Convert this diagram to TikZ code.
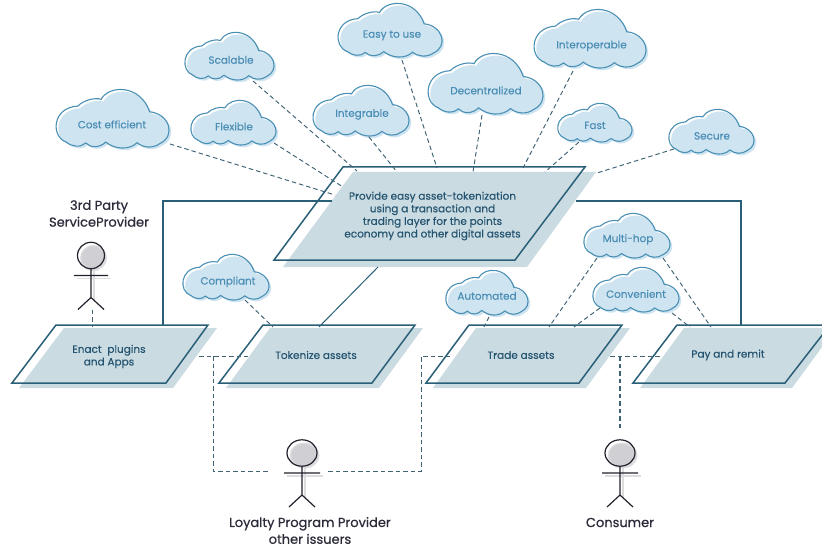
\documentclass[tikz,border=0pt]{standalone}
\usepackage{fontspec}
\setmainfont{Poppins}[FakeBold=0.3]
\newfontfamily\actorfont{Poppins}[FakeBold=0.6]
\definecolor{edgeblue}{HTML}{2A5F78}
\definecolor{dashc}{HTML}{3F6274}
\definecolor{boxfill}{HTML}{CBDBE2}
\definecolor{cloudfill}{HTML}{CFE4F1}
\definecolor{cloudedge}{HTML}{4A90B5}
\definecolor{cloudtext}{HTML}{4A8DB5}
\definecolor{boxtext}{HTML}{245470}
\definecolor{actortext}{HTML}{2B2B3A}
\definecolor{actorline}{HTML}{22222E}
\definecolor{headfill}{HTML}{CFCFD4}
\definecolor{shadowc}{HTML}{DDDDE0}
\tikzset{
  cloudlabel/.style={inner sep=0pt,text=cloudtext,font=\fontsize{10.4}{11}\selectfont},
  boxlabel/.style={inner sep=0pt,text=boxtext,align=center,font=\fontsize{10.5}{12.6}\selectfont},
  actorlabel/.style={inner sep=0pt,text=actortext,align=center,font=\actorfont\fontsize{13}{16.8}\selectfont},
  dashline/.style={draw=dashc,line width=0.95pt,dash pattern=on 4.5pt off 3pt},
  solidline/.style={draw=edgeblue,line width=1.05pt},
  boxedge/.style={draw=edgeblue,line width=1.5pt,line join=miter},
  actorstroke/.style={draw=actorline,line width=1.2pt},
}
\newcommand{\cloudshape}{(-0.80,0.80)
 .. controls (-1.08,0.62) and (-1.05,-0.38) .. (-0.60,-0.42)
 .. controls (-0.50,-0.62) and (-0.30,-0.72) .. (-0.19,-0.65)
 .. controls (-0.05,-1.15) and (0.50,-1.15) .. (0.66,-0.23)
 .. controls (1.02,-0.15) and (1.12,0.60) .. (0.84,0.85)
 .. controls (0.72,1.02) and (0.55,1.0) .. (0.44,0.82)
 .. controls (0.30,1.08) and (0.05,1.05) .. (-0.11,0.80)
 .. controls (-0.22,1.0) and (-0.38,1.0) .. (-0.46,0.83)
 .. controls (-0.55,1.0) and (-0.72,0.95) .. (-0.80,0.80) -- cycle}
% name x0 x1 y0 y1 tx ty text
\newcommand{\cloudnode}[8]{%
  \pgfmathsetmacro{\cxx}{(#2+#3)/2}\pgfmathsetmacro{\cyy}{(#4+#5)/2}%
  \pgfmathsetmacro{\hww}{(#3-#2)/2}\pgfmathsetmacro{\hhh}{(#5-#4)/2}%
  \begin{scope}[shift={(\cxx,\cyy)},x=\hww pt,y=-\hhh pt]
    \fill[white] \cloudshape;
    \begin{scope}[xshift=2.2pt,yshift=-2.2pt]\fill[cloudfill] \cloudshape;\end{scope}
    \draw[cloudedge,line width=1.1pt] \cloudshape;
  \end{scope}
  \node[cloudlabel] (#1) at (#6,#7+0.4) {#8};}
\newcommand{\conn}[6]{\draw[dashline] ([shift={(#2,#3-0.4)}]#1.center) -- ([shift={(#5,#6-0.5)}]#4.center);}
\newcommand{\actor}[5]{% name, cx, headcy, rx, armhalf
  \fill[shadowc] (#2+2.5,#3+2.5) ellipse (#4 pt and 13pt);
  \fill[headfill] (#2+2,#3+2) ellipse (#4*0.85 pt and 11pt);
  \draw[actorstroke] (#2,#3) ellipse (#4 pt and 13.2pt);
  \draw[shadowc,line width=1.2pt] (#2+3,#3+14) -- (#2+3,#3+44) (#2-#5+3,#3+23) -- (#2+#5+3,#3+23);
  \draw[actorstroke] (#2,#3+13.2) -- (#2,#3+42) (#2-#5,#3+20) -- (#2+#5,#3+20)
    (#2-13,#3+54) -- (#2,#3+42) -- (#2+13,#3+54);
  \coordinate (#1) at (#2,#3);}
\begin{document}
\begin{tikzpicture}[x=1pt,y=-1pt]
\clip (0,0) rectangle (822,548);
\fill[white] (0,0) rectangle (822,548);
% actors
\actor{a1}{91}{255.5}{13.5}{17}
\actor{a2}{302}{453}{15}{18}
\actor{a3}{620}{453}{15}{18}
% box fills
\fill[boxfill] (353,172) -- (596,172) -- (527,267) -- (283,267) -- cycle;
\fill[boxfill] (64,328) -- (217,328) -- (173,388) -- (19,388) -- cycle;
\fill[boxfill] (270,328) -- (423,328) -- (379,388) -- (226,388) -- cycle;
\fill[boxfill] (476,328) -- (630,328) -- (586,388) -- (433,388) -- cycle;
\fill[boxfill] (684,328) -- (836,328) -- (792,388) -- (640,388) -- cycle;
% labels
\node[boxlabel] (main) at (432.5,216) {Provide easy asset-tokenization\\using a transaction and\\trading layer for the points\\economy and other digital assets};
\node[boxlabel] (enact) at (109,356.5) {Enact\ \ plugins\\and Apps};
\node[boxlabel] (token) at (316,355) {Tokenize assets};
\node[boxlabel] (trade) at (521,355) {Trade assets};
\node[boxlabel] (pay) at (728,355) {Pay and remit};
% solid
\draw[solidline] ([shift={(54,-31.5)}]enact.center) -- ([shift={(54,-155.5)}]enact.center) -- ([shift={(-100.5,-15)}]main.center);
\draw[solidline] ([shift={(143.5,-15)}]main.center) -- ([shift={(13,-154)}]pay.center) -- ([shift={(13,-29.5)}]pay.center);
\draw[edgeblue,line width=1pt] ([shift={(-54.5,51)}]main.center) -- ([shift={(3,-28)}]token.center);
% outlines
\draw[boxedge] (343,167) -- (585,167) -- (515,260) -- (274,260) -- cycle;
\draw[boxedge] (56,325) -- (208,325) -- (166,383) -- (12,383) -- cycle;
\draw[boxedge] (263,325) -- (415,325) -- (372,383) -- (219,383) -- cycle;
\draw[boxedge] (469,325) -- (622,325) -- (579,383) -- (426,383) -- cycle;
\draw[boxedge] (677,325) -- (830,325) -- (785,383) -- (633,383) -- cycle;
% clouds
\cloudnode{cost}{55}{169}{89}{148}{112}{124}{Cost efficient}
\cloudnode{scal}{184}{274}{32}{80}{231}{59.5}{Scalable}
\cloudnode{flex}{190}{276}{100}{145}{234}{126}{Flexible}
\cloudnode{integ}{312}{409}{85}{136}{362}{114}{Integrable}
\cloudnode{easy}{337}{442}{3}{57}{392}{35}{Easy to use}
\cloudnode{decen}{427}{543}{53}{114}{486}{90}{Decentralized}
\cloudnode{inter}{533}{646}{9}{68}{591.5}{45.5}{Interoperable}
\cloudnode{fast}{557}{632}{103}{142}{595}{125}{Fast}
\cloudnode{secure}{668}{754}{109}{154}{712}{135.5}{Secure}
\cloudnode{multi}{583}{670}{213}{258}{628}{239}{Multi-hop}
\cloudnode{conv}{592}{679}{267}{312}{636}{293.5}{Convenient}
\cloudnode{compl}{182}{269}{254}{300}{228}{281.5}{Compliant}
\cloudnode{auto}{445}{528}{270}{315}{487}{295.5}{Automated}
% dashed connectors
\conn{cost}{58}{20}{main}{-97.5}{-20.5}
\conn{flex}{40}{17}{main}{-89.5}{-28.5}
\conn{scal}{22}{21.5}{main}{-75.5}{-44.5}
\conn{integ}{7}{23}{main}{-35.5}{-43.5}
\conn{easy}{10}{25}{main}{4.5}{-47.5}
\conn{decen}{-4}{25}{main}{40.5}{-43.5}
\conn{inter}{-18.5}{25.5}{main}{90.5}{-47.5}
\conn{fast}{-16}{17}{main}{112.5}{-43.5}
\conn{secure}{-38}{13.5}{main}{164.5}{-42.5}
\conn{compl}{17}{18.5}{token}{-43}{-27.5}
\conn{auto}{2}{21.5}{trade}{-37}{-27.5}
\conn{multi}{-31}{19}{trade}{28}{-27.5}
\conn{multi}{35}{19}{pay}{-17}{-27.5}
\conn{conv}{-36}{14.5}{trade}{53}{-27.5}
\conn{conv}{36}{19.5}{pay}{-38}{-27.5}
\draw[dashline] ([shift={(1,54)}]a1) -- ([shift={(-17,-29.5)}]enact.center);
\draw[dashline] ([shift={(90,-0.5)}]enact.center) -- ([shift={(-68,1)}]token.center);
\draw[dashline] ([shift={(104,-0.5)}]enact.center) -- ([shift={(104,114.5)}]enact.center) -- ([shift={(-32,18)}]a2);
\draw[dashline] ([shift={(26,18)}]a2) -- ([shift={(-100,116)}]trade.center) -- ([shift={(-100,1)}]trade.center) -- ([shift={(-69,1)}]trade.center);
\draw[dashline] ([shift={(89,1)}]trade.center) -- ([shift={(-67,1)}]pay.center);
\draw[dashline,line width=1.4pt] ([shift={(99,1)}]trade.center) -- ([shift={(0,-23)}]a3);
% actor labels
\node[actorlabel] (l1) at (99,213.5) {3rd Party\\ServiceProvider};
\node[actorlabel] (l2) at (310,530.5) {Loyalty Program Provider\\other issuers};
\node[actorlabel] (l3) at (620,522.5) {Consumer};
\end{tikzpicture}
\end{document}
